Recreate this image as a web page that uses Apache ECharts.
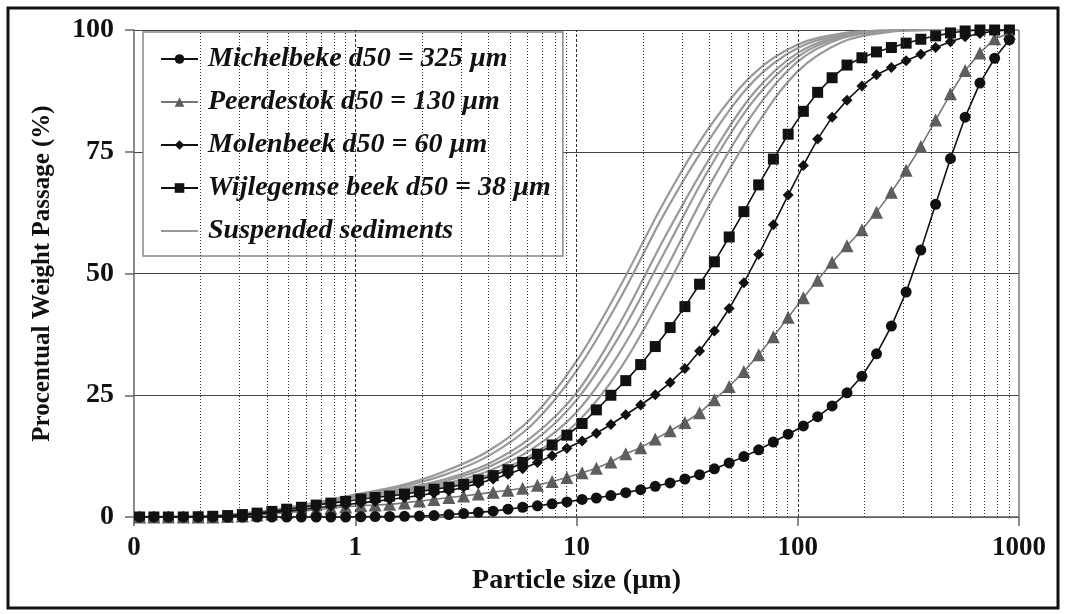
<!DOCTYPE html>
<html>
<head>
<meta charset="utf-8">
<script src="https://cdn.jsdelivr.net/npm/echarts/dist/echarts.min.js"></script>
<style>
html,body{margin:0;padding:0;background:#fff;}
#grain_chart{width:1065px;height:614px;}
</style>
</head>
<body>
<div id="grain_chart"></div>
<script>
// particle sizes (µm) of the measured bins
var sizes = [0.106,0.123,0.143,0.167,0.195,0.227,0.265,0.309,0.360,0.420,0.490,0.571,0.666,0.776,0.905,
	1.06,1.23,1.43,1.67,1.95,2.27,2.65,3.09,3.60,4.20,4.90,5.71,6.66,7.76,9.05,
	10.6,12.3,14.3,16.7,19.5,22.7,26.5,30.9,36.0,42.0,49.0,57.1,66.6,77.6,90.5,
	106,123,143,167,195,227,265,309,360,420,490,571,666,776,905];

var michelbeke = [0,0,0,0,0,0,0,0,0,0,0,0,0,0,0,
	0.05,0.08,0.1,0.15,0.2,0.3,0.5,0.7,0.95,1.2,1.6,2.0,2.3,2.7,3.1,
	3.6,3.9,4.4,5.0,5.6,6.3,7.0,7.8,8.7,9.9,11.1,12.4,13.8,15.4,17.0,
	18.7,20.6,22.8,25.5,28.9,33.5,39.2,46.2,54.8,64.2,73.6,82.1,89.1,94.2,98.0];

var peerdestok = [0,0,0,0,0,0,0.1,0.2,0.4,0.6,0.9,1.2,1.5,1.8,2.1,
	2.3,2.45,2.6,2.9,3.3,3.6,4.0,4.3,4.7,5.1,5.5,5.9,6.5,7.3,8.1,
	9.1,10.0,11.3,13.0,14.2,16.0,17.7,19.4,21.4,24.1,26.8,29.9,33.3,37.0,41.0,
	45.0,48.6,52.3,55.7,59.0,62.6,66.7,71.2,76.1,81.5,86.9,91.7,95.3,98.2,99.3];

var molenbeek = [0,0,0,0,0,0,0.2,0.35,0.6,0.9,1.2,1.5,1.9,2.2,2.5,
	2.9,3.2,3.6,4.0,4.4,4.9,5.4,6.1,6.9,7.8,8.8,9.9,11.2,12.6,14.1,
	15.6,17.2,19.0,21.0,23.0,25.1,27.6,30.5,34.1,38.2,42.8,48.1,53.9,60.0,66.1,
	72.2,77.6,82.1,85.6,88.5,90.8,92.3,93.7,95.0,96.4,97.6,98.6,99.3,99.8,100];

var wijlegemse = [0,0,0,0,0.05,0.15,0.3,0.5,0.8,1.15,1.6,2.0,2.45,2.85,3.2,
	3.7,4.0,4.3,4.7,5.2,5.7,6.1,6.7,7.6,8.5,9.7,11.2,12.9,14.8,16.8,
	19.2,22.0,25.0,28.0,31.3,35.0,38.9,43.2,47.8,52.4,57.5,62.7,68.2,73.5,78.6,
	83.3,87.2,90.2,92.8,94.3,95.5,96.4,97.3,98.1,98.8,99.4,99.8,100,100,100];

// suspended sediment samples, read at 5 sizes per decade
var suspSizes = [0.1,0.158,0.251,0.398,0.631,1,1.58,2.51,3.98,6.31,10,15.8,25.1,39.8,63.1,100,158,251,398,631,1000];
var susp1 = [0,0.05,0.4,1.3,2.8,4.6,6.4,9.3,13.5,20.5,32,47.5,65,80,91,97,99.3,99.9,100,100,100];
var susp2 = [0,0.05,0.35,1.2,2.7,4.5,6.1,8.6,12.5,19,30,45,62.5,77.5,89.5,96.3,99.1,99.9,100,100,100];
var susp3 = [0,0.05,0.3,1.1,2.5,4.3,5.7,7.7,10.9,16.5,25.5,40,57.5,73.5,87,95.3,98.8,99.8,100,100,100];
var susp4 = [0,0.05,0.3,1.0,2.4,4.2,5.5,7.3,10.2,15.3,24,37.5,54.5,71.5,85.5,94.5,98.6,99.8,100,100,100];
var susp5 = [0,0.05,0.25,0.9,2.3,4.1,5.2,6.8,9.4,14,21.5,34,50.5,68,83,93.5,98.3,99.7,100,100,100];
var susp6 = [0,0.05,0.2,0.8,2.2,4.0,4.9,6.3,8.6,12.8,19.3,30.5,46.5,64,79.5,91.5,97.5,99.5,100,100,100];

var yTicks = [0,25,50,75,100];
var minorGrid = [0.2,0.3,0.4,0.5,0.6,0.7,0.8,0.9,2,3,4,5,6,7,8,9,20,30,40,50,60,70,80,90,200,300,400,500,600,700,800,900];
var majorGrid = [1,10,100];

var names = ['Michelbeke d50 = 325 µm','Peerdestok d50 = 130 µm','Molenbeek d50 = 60 µm',
	'Wijlegemse beek d50 = 38 µm','Suspended sediments'];

function pairs(xs, ys){
	var out = [];
	for (var i = 0; i < xs.length; i++) out.push([xs[i], ys[i]]);
	return out;
}

var serif = 'Liberation Serif';
var series = [];

// grid lines drawn as mark lines
series.push({
	type:'line', data:[], silent:true,
	markLine:{
		silent:true, symbol:['none','none'], label:{show:false}, animation:false,
		data: minorGrid.map(function(v){ return {xAxis:v, lineStyle:{color:'#333', width:1, type:[1,2]}}; })
			.concat(majorGrid.map(function(v){ return {xAxis:v, lineStyle:{color:'#333', width:1, type:[3,2]}}; }))
			.concat([{xAxis:1000, lineStyle:{color:'#777', width:1.5, type:'solid'}}])
	}
});

[susp1,susp2,susp3,susp4,susp5,susp6].forEach(function(s){
	series.push({
		name:names[4], type:'line', data:pairs(suspSizes, s),
		smooth:0.35, symbol:'none',
		lineStyle:{color:'#999', width:2.2}, itemStyle:{color:'#999'}, z:2
	});
});

series.push({
	name:names[0], type:'line', data:pairs(sizes, michelbeke),
	symbol:'circle', symbolSize:11,
	lineStyle:{color:'#111', width:1.6}, itemStyle:{color:'#111'}, z:5
});
series.push({
	name:names[1], type:'line', data:pairs(sizes, peerdestok),
	symbol:'triangle', symbolSize:13,
	lineStyle:{color:'#777', width:1.6}, itemStyle:{color:'#5e5e5e'}, z:4
});
series.push({
	name:names[2], type:'line', data:pairs(sizes, molenbeek),
	symbol:'diamond', symbolSize:11,
	lineStyle:{color:'#111', width:1.6}, itemStyle:{color:'#111'}, z:4
});
series.push({
	name:names[3], type:'line', data:pairs(sizes, wijlegemse),
	symbol:'rect', symbolSize:11,
	lineStyle:{color:'#111', width:1.6}, itemStyle:{color:'#111'}, z:3
});

var option = {
	animation:false,
	backgroundColor:'#fff',
	grid:{left:134, right:46, top:30, bottom:97},
	legend:{
		data:[names[0], names[1], names[2], names[3],
			{name:names[4], icon:'path://M0,0 L40,0 L40,2.4 L0,2.4 Z'}],
		orient:'vertical', left:143, top:32,
		padding:[12,12,10,17], itemGap:13, itemWidth:37, itemHeight:12,
		backgroundColor:'#fff', borderColor:'#888', borderWidth:1.5,
		textStyle:{fontFamily:serif, fontStyle:'italic', fontWeight:'bold', fontSize:28, color:'#111', lineHeight:30, padding:[0,0,0,5]}
	},
	xAxis:{
		type:'log', logBase:10, min:0.1, max:1000,
		name:'Particle size (µm)', nameLocation:'middle', nameGap:50,
		nameTextStyle:{fontFamily:serif, fontWeight:'bold', fontSize:28, color:'#111'},
		axisLine:{lineStyle:{color:'#666', width:1.5}},
		axisTick:{show:true, length:9, lineStyle:{color:'#666', width:1.5}},
		axisLabel:{fontFamily:serif, fontWeight:'bold', fontSize:27, color:'#111', margin:18,
			formatter:function(v){ return v < 1 ? '0' : String(v); }},
		splitLine:{show:false}
	},
	yAxis:{
		type:'value', min:0, max:100, interval:25,
		name:'Procentual Weight Passage (%)', nameLocation:'middle', nameGap:79,
		nameTextStyle:{fontFamily:serif, fontWeight:'bold', fontSize:25, color:'#111'},
		axisLine:{show:true, lineStyle:{color:'#666', width:1.5}},
		axisTick:{show:true, length:9, lineStyle:{color:'#666', width:1.5}},
		axisLabel:{fontFamily:serif, fontWeight:'bold', fontSize:28, color:'#111', margin:20},
		splitLine:{lineStyle:{color:'#444', width:1.2}}
	},
	graphic:[{
		type:'rect', shape:{x:8, y:8, width:1050, height:600},
		style:{fill:'none', stroke:'#111', lineWidth:3}, z:100
	}],
	series:series
};

var grainChart = echarts.init(document.getElementById('grain_chart'));
grainChart.setOption(option);
</script>
</body>
</html>
